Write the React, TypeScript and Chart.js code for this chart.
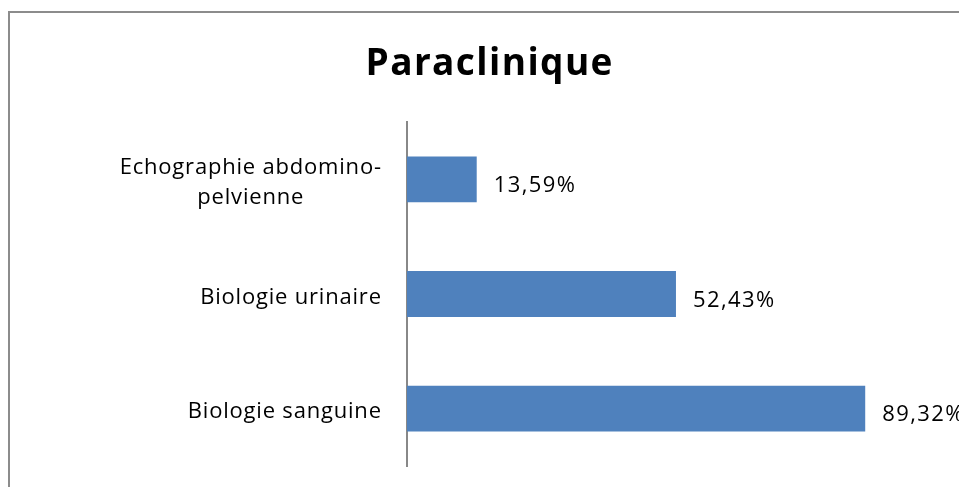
import React, { useEffect, useRef } from "react";
import { Chart, registerables } from "chart.js";

Chart.register(...registerables);

const chartTitle = "Paraclinique";
const categoryLines: string[][] = [
  ["Echographie abdomino-", "pelvienne"],
  ["Biologie urinaire"],
  ["Biologie sanguine"],
];
const values = [13.59, 52.43, 89.32];
const xMin = 0;
const xMax = 100;

const FONT = '"Open Sans", "DejaVu Sans", sans-serif';
const BAR_COLOR = "#4F81BD";
const AXIS_COLOR = "#888888";
const CANVAS_W = 949;
const CANVAS_H = 474;
const TITLE_OFFSET_X = 4.5;
const TITLE_BASELINE = 62;

if (typeof document !== "undefined") {
  document.documentElement.style.overflow = "hidden";
  document.body.style.overflow = "hidden";
}

const formatPct = (v: number) => v.toFixed(2).replace(".", ",") + "%";

const titlePlugin = {
  id: "titlePlugin",
  afterDraw(chart: any) {
    const ctx = chart.ctx;
    ctx.save();
    ctx.font = `bold 37px ${FONT}`;
    (ctx as any).letterSpacing = "1.4px";
    ctx.fillStyle = "#000000";
    ctx.textAlign = "center";
    ctx.textBaseline = "alphabetic";
    ctx.fillText(chartTitle, chart.width / 2 + TITLE_OFFSET_X + 0.7, TITLE_BASELINE);
    ctx.restore();
  },
};

const yLabelPlugin = {
  id: "yLabelPlugin",
  afterDraw(chart: any) {
    const ctx = chart.ctx;
    const yScale = chart.scales.y;
    const right = chart.chartArea.left - 26;
    const lineH = 30;
    ctx.save();
    ctx.font = `22px ${FONT}`;
    (ctx as any).letterSpacing = "0.8px";
    ctx.fillStyle = "#000000";
    ctx.textBaseline = "alphabetic";
    ctx.textAlign = "center";
    categoryLines.forEach((lines, i) => {
      const cy = yScale.getPixelForTick(i);
      const maxW = Math.max(...lines.map((l) => ctx.measureText(l).width));
      const cx = right - maxW / 2 + 0.8;
      lines.forEach((l, j) => {
        ctx.fillText(l, cx, cy + 9.5 + (j - (lines.length - 1) / 2) * lineH);
      });
    });
    ctx.restore();
  },
};

const valueLabelPlugin = {
  id: "valueLabelPlugin",
  afterDatasetsDraw(chart: any) {
    const ctx = chart.ctx;
    const meta = chart.getDatasetMeta(0);
    ctx.save();
    ctx.font = `22px ${FONT}`;
    (ctx as any).letterSpacing = "1.4px";
    ctx.fillStyle = "#000000";
    ctx.textBaseline = "alphabetic";
    ctx.textAlign = "left";
    meta.data.forEach((bar: any, i: number) => {
      ctx.fillText(formatPct(values[i]), bar.x + 17, bar.y + 12.5);
    });
    ctx.restore();
  },
};

export default function App() {
  const canvasRef = useRef<HTMLCanvasElement | null>(null);

  useEffect(() => {
    if (!canvasRef.current) return;
    const chart = new Chart(canvasRef.current, {
      type: "bar",
      data: {
        labels: categoryLines.map((l) => l.join(" ")),
        datasets: [
          {
            data: values,
            backgroundColor: BAR_COLOR,
            borderWidth: 0,
            barPercentage: 0.4,
            categoryPercentage: 1,
          },
        ],
      },
      options: {
        indexAxis: "y",
        responsive: false,
        animation: false,
        layout: { padding: { left: 0, right: 39, top: 109, bottom: 21 } },
        plugins: {
          legend: { display: false },
          tooltip: { enabled: false },
          title: { display: false },
        },
        scales: {
          x: {
            display: false,
            min: xMin,
            max: xMax,
          },
          y: {
            display: true,
            grid: { display: false },
            border: { display: true, color: AXIS_COLOR, width: 2 },
            ticks: { display: false },
            afterFit(scale: any) {
              scale.width = 397;
            },
          },
        },
      },
      plugins: [yLabelPlugin, valueLabelPlugin, titlePlugin],
    });
    return () => chart.destroy();
  }, []);

  return (
    <div
      style={{
        position: "fixed",
        left: 8,
        top: 11,
        width: CANVAS_W + 2,
        height: CANVAS_H + 2,
        overflow: "hidden",
        borderTop: "2px solid #8c8c8c",
        borderLeft: "2px solid #8c8c8c",
        boxSizing: "border-box",
        background: "#ffffff",
      }}
    >
      <canvas
        ref={canvasRef}
        width={CANVAS_W}
        height={CANVAS_H}
        style={{ display: "block", width: CANVAS_W, height: CANVAS_H }}
      />
    </div>
  );
}
